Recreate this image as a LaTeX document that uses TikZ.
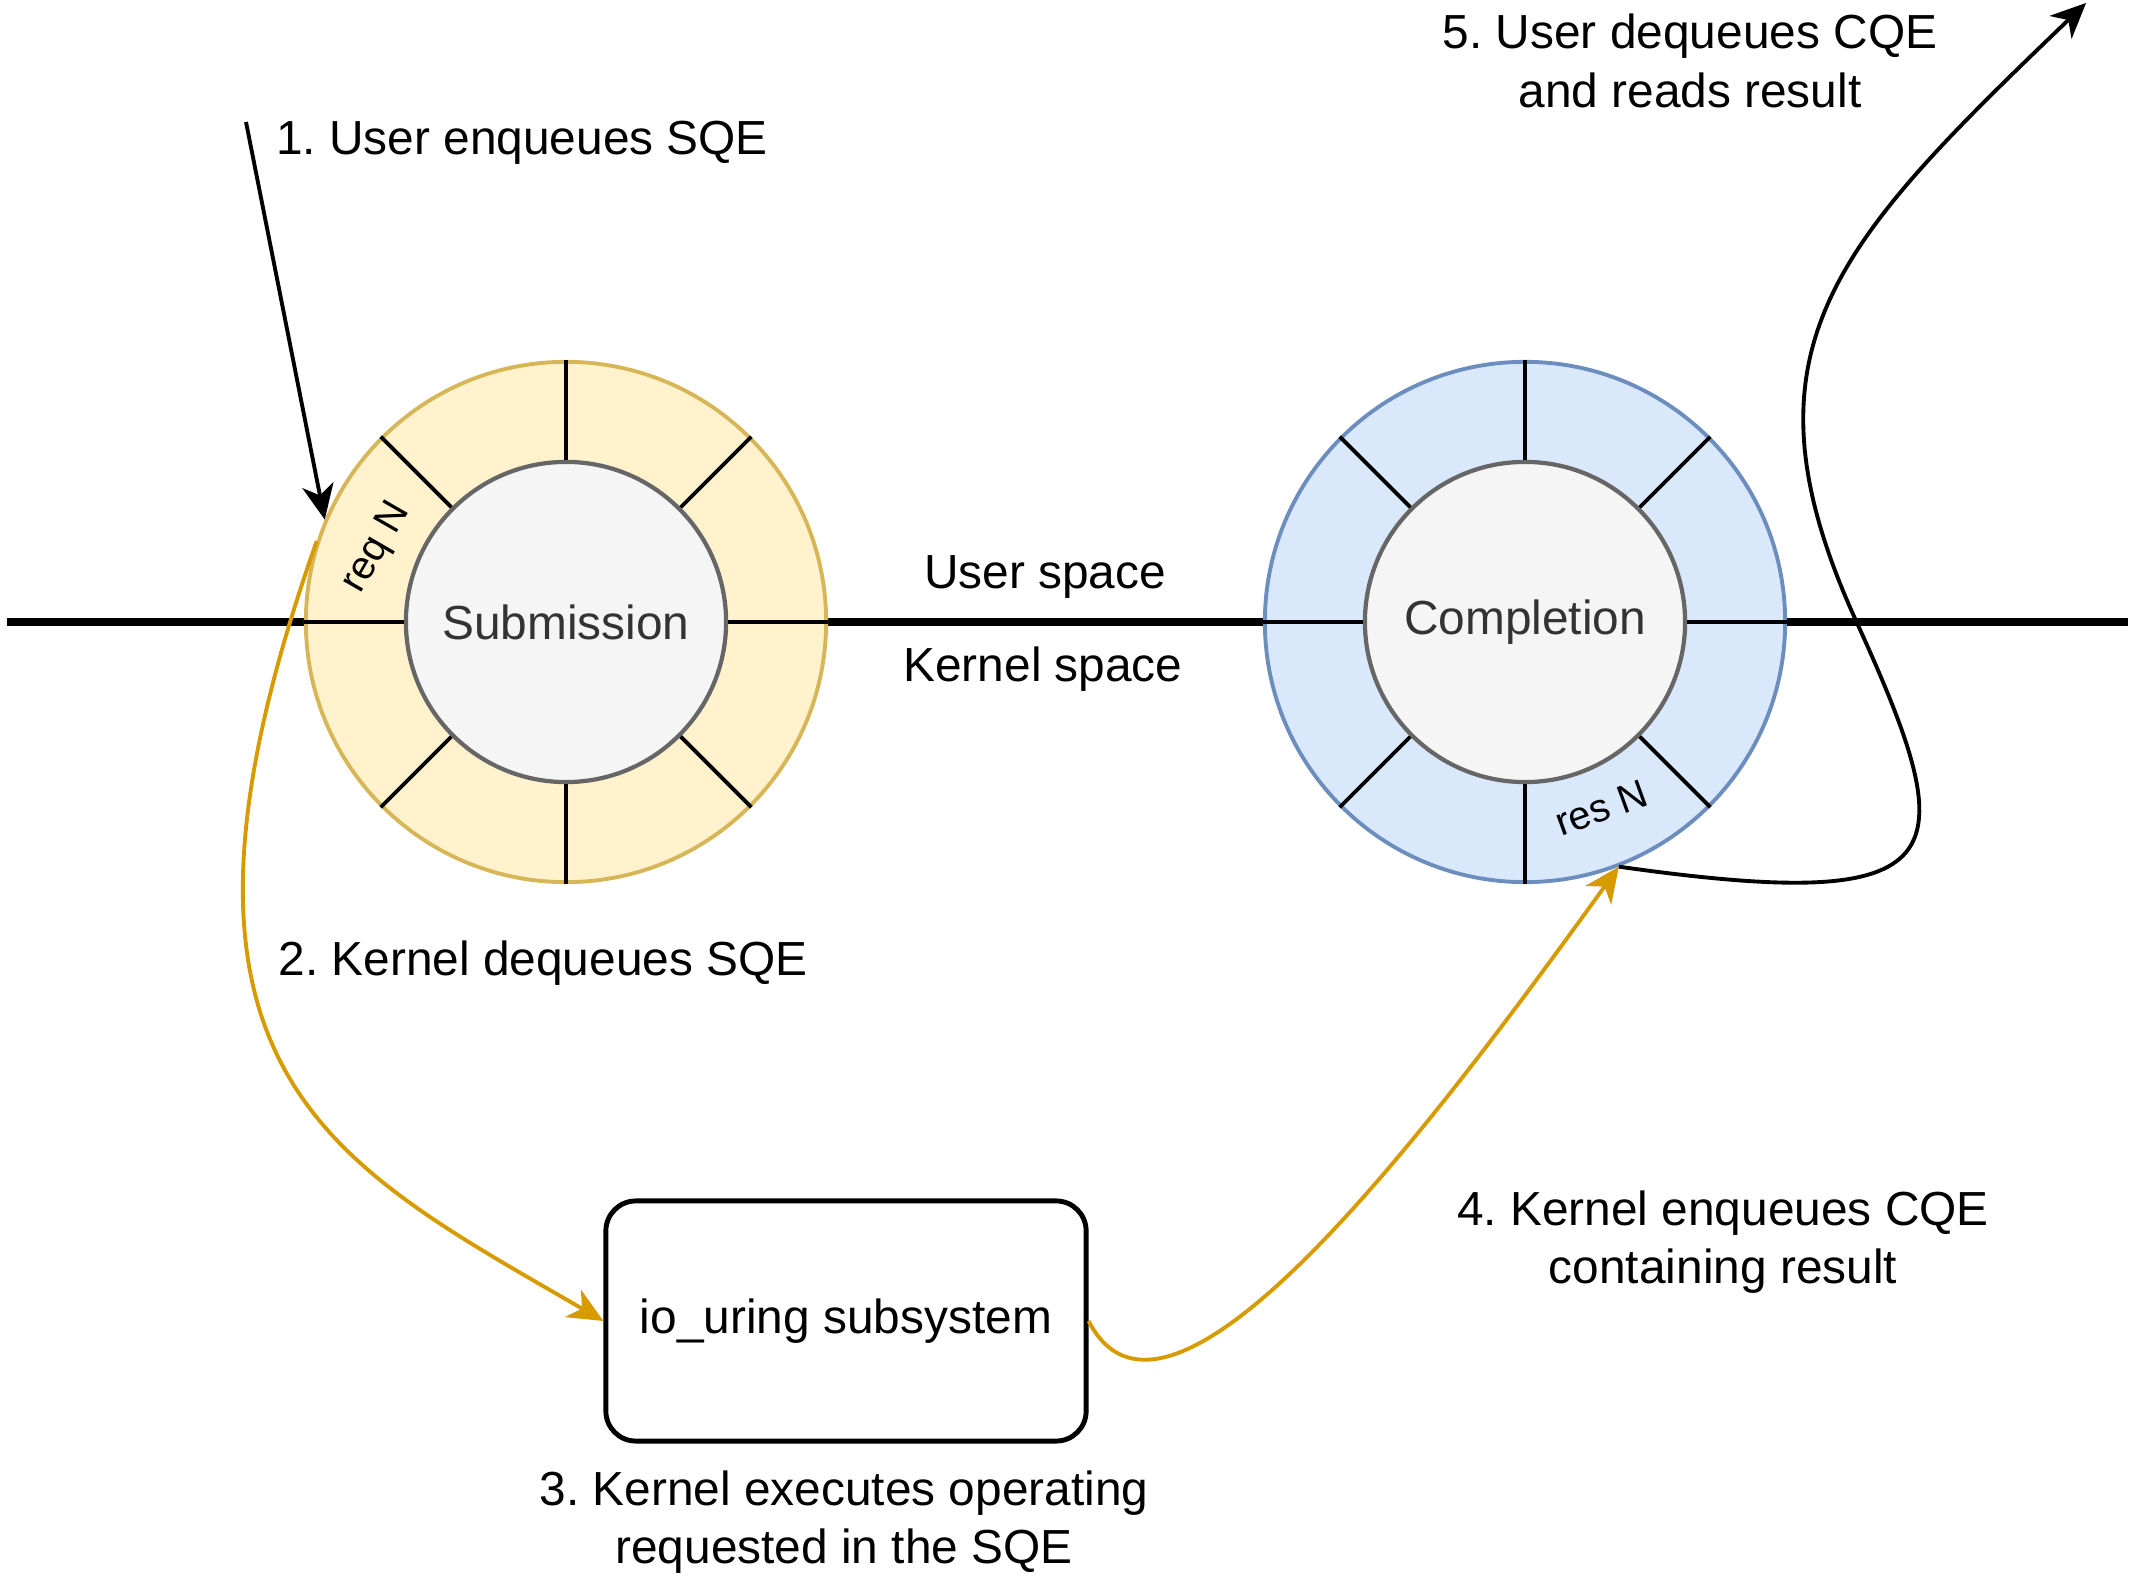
\documentclass[tikz,border=0pt]{standalone}
\usepackage{fontspec}
\setmainfont{Liberation Sans}
\frenchspacing
\usetikzlibrary{arrows.meta}
\definecolor{subfill}{HTML}{FFF2CC}
\definecolor{subline}{HTML}{D6B656}
\definecolor{compfill}{HTML}{DAE8FC}
\definecolor{compline}{HTML}{6C8EBF}
\definecolor{hubfill}{HTML}{F5F5F5}
\definecolor{hubline}{HTML}{666666}
\definecolor{hubtext}{HTML}{333333}
\definecolor{kernelorange}{HTML}{D79B00}
\pgfdeclarelayer{edgelayer}
\pgfdeclarelayer{nodelayer}
\pgfsetlayers{edgelayer,nodelayer,main}
\tikzstyle{subring}=[circle, fill=subfill, draw=subline, line width=1.1pt, minimum size=5.2cm, inner sep=0pt]
\tikzstyle{compring}=[circle, fill=compfill, draw=compline, line width=1.1pt, minimum size=5.2cm, inner sep=0pt]
\tikzstyle{hub}=[circle, fill=hubfill, draw=hubline, line width=1.2pt, minimum size=3.2cm, inner sep=0pt, text=hubtext, font=\fontsize{13.6pt}{16.6pt}\selectfont]
\tikzstyle{slot}=[draw=black, line width=1.1pt]
\tikzstyle{slotlabel}=[font=\fontsize{11.3pt}{13pt}\selectfont]
\tikzstyle{caption}=[align=center, font=\fontsize{13.6pt}{16.6pt}\selectfont]
\tikzstyle{subsys}=[rectangle, rounded corners=0.3cm, draw=black, fill=white, line width=1.4pt, minimum width=4.8cm, minimum height=2.4cm, font=\fontsize{13.6pt}{16.6pt}\selectfont]
\tikzstyle{divide}=[draw=black, line width=2.4pt]
\tikzstyle{useredge}=[draw=black, line width=1.1pt, -{Stealth[length=10pt, width=9pt, inset=3pt]}]
\tikzstyle{kerneledge}=[draw=kernelorange, line width=1.1pt, -{Stealth[length=10pt, width=9pt, inset=3pt]}]

\begin{document}
\begin{tikzpicture}[x=0.01cm, y=0.01cm]
	\useasboundingbox (0, 0) rectangle (2136, -1580);
	\begin{pgfonlayer}{edgelayer}
		\coordinate (lineL) at (7, -622);
		\coordinate (lineR) at (2128, -622);
		\draw [style=divide] (lineL) to (lineR);
	\end{pgfonlayer}
	\begin{pgfonlayer}{nodelayer}
		\node [style=subring] (sub) at (566, -622) {};
		\node [style=hub] (subhub) at (566, -622) {Submission};
		\node [style=compring] (comp) at (1525, -622) {};
		\node [style=hub] (comphub) at (1525, -622) {Completion};
		\node [style=subsys] (uring) at (846, -1321) {io\_uring subsystem};
	\end{pgfonlayer}
	% ring slots
	\foreach \a in {0,45,...,315} {
		\draw [style=slot] (subhub.\a) to (sub.\a);
		\draw [style=slot] (comphub.\a) to (comp.\a);
	}
	\node [style=slotlabel, rotate=60] (reqn) at (377, -548) {req N};
	\node [style=slotlabel, rotate=20] (resn) at (1601, -808) {res N};
	% labels
	\node [style=caption] (userspace) at (1045, -577) {User space};
	\node [style=caption] (kernelspace) at (1043, -669) {Kernel space};
	\node [style=caption] (step1) at (522, -143) {1. User enqueues SQE};
	\node [style=caption] (step2) at (543, -963) {2. Kernel dequeues SQE};
	\node [style=caption] (step3) at (844, -1522) {3. Kernel executes operating\\requested in the SQE};
	\node [style=caption] (step4) at (1723, -1242) {4. Kernel enqueues CQE\\containing result};
	\node [style=caption] (step5) at (1690, -61) {5. User dequeues CQE\\and reads result};
	% arrows
	\coordinate (userin) at (246, -122);
	\coordinate (userout) at (2086, -3);
	\coordinate (bend) at (1857, -623);
	\draw [style=useredge] (userin) to (sub.157);
	\draw [style=kerneledge] (sub.162) .. controls (130, -1070) and (326, -1160) .. (uring.west);
	\draw [style=kerneledge] (uring.east) .. controls (1170, -1480) and (1441, -1113) .. (comp.291);
	\draw [style=useredge] (comp.291) .. controls (1960, -915) and (1965, -860) .. (bend)
		.. controls (1732, -350) and (1834, -245) .. (userout);
\end{tikzpicture}
\end{document}
